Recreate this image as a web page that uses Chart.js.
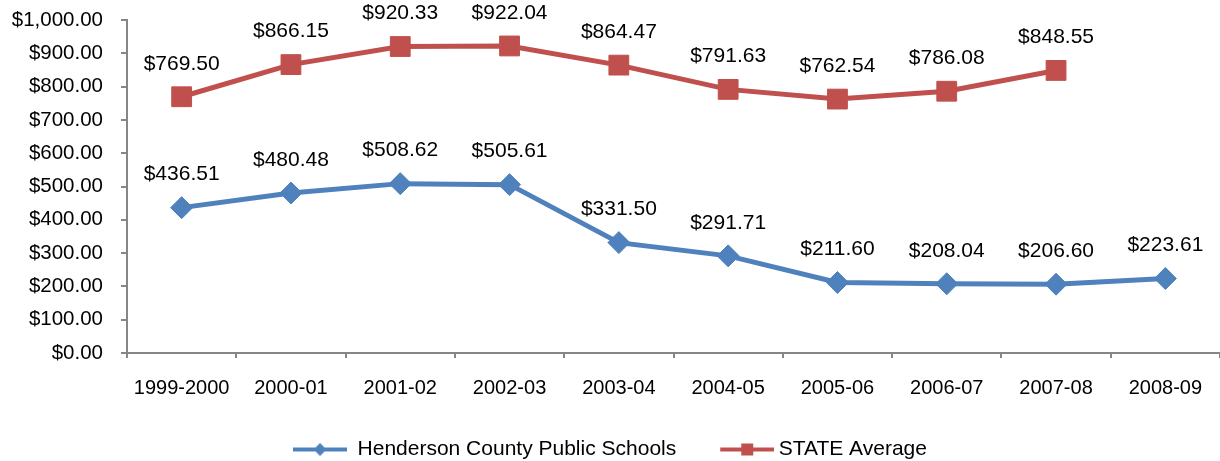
<!DOCTYPE html>
<html>
<head>
<meta charset="utf-8">
<script src="https://cdn.jsdelivr.net/npm/chart.js@4.4.0/dist/chart.umd.min.js"></script>
<style>
  html, body { margin: 0; padding: 0; background: #fff; }
  #wrap { width: 1220px; height: 461px; }
</style>
</head>
<body>
<div id="wrap"><canvas id="myChart" width="1220" height="461"></canvas></div>
<script>
var years = ["1999-2000", "2000-01", "2001-02", "2002-03", "2003-04", "2004-05", "2005-06", "2006-07", "2007-08", "2008-09"]
var henderson = [436.51, 480.48, 508.62, 505.61, 331.50, 291.71, 211.60, 208.04, 206.60, 223.61]
var stateAvg = [769.50, 866.15, 920.33, 922.04, 864.47, 791.63, 762.54, 786.08, 848.55, null]
var seriesNames = ["Henderson County Public Schools", "STATE Average"]

var blue = "#4F81BD"
var red = "#C0504D"
var axisGray = "#868686"
var font = "'Liberation Sans', Arial, sans-serif"

function money(v) {
  return "$" + v.toLocaleString("en-US", {minimumFractionDigits: 2, maximumFractionDigits: 2})
}

// legend swatch: line with a small marker, shift pushes it right (canvas gets wider on the left)
function swatch(color, shape, shift) {
  var c = document.createElement("canvas")
  c.width = 54 + 2 * shift; c.height = 16
  var g = c.getContext("2d")
  var x0 = 2 * shift
  g.strokeStyle = color
  g.lineWidth = 4
  g.beginPath(); g.moveTo(x0, 8); g.lineTo(x0 + 54, 8); g.stroke()
  g.fillStyle = color
  var cx = x0 + 27
  if (shape == "diamond") {
    g.beginPath(); g.moveTo(cx, 1.5); g.lineTo(cx + 6.5, 8); g.lineTo(cx, 14.5); g.lineTo(cx - 6.5, 8); g.closePath(); g.fill()
  } else {
    g.fillRect(cx - 6, 2, 12, 12)
  }
  return c
}

var valueLabels = {
  id: "valueLabels",
  afterDatasetsDraw: function(chart) {
    var ctx = chart.ctx
    ctx.save()
    ctx.font = "21px " + font
    ctx.fillStyle = "#000"
    ctx.textAlign = "center"
    ctx.textBaseline = "middle"
    chart.data.datasets.forEach(function(ds, i) {
      chart.getDatasetMeta(i).data.forEach(function(pt, j) {
        var v = ds.data[j]
        if (v == null) return
        ctx.fillText(money(v), pt.x, pt.y - 33)
      })
    })
    ctx.restore()
  }
}

var ctx = document.getElementById("myChart")
var chart = new Chart(ctx, {
  type: "line",
  data: {
    labels: years,
    datasets: [
      {
        label: seriesNames[0],
        data: henderson,
        borderColor: blue,
        backgroundColor: blue,
        borderWidth: 5,
        pointStyle: "rectRot",
        pointRadius: 11,
        pointBorderWidth: 1,
        tension: 0,
        clip: false
      },
      {
        label: seriesNames[1],
        data: stateAvg,
        borderColor: red,
        backgroundColor: red,
        borderWidth: 5,
        pointStyle: "rect",
        pointRadius: 14,
        pointBorderWidth: 1,
        tension: 0,
        clip: false
      }
    ]
  },
  options: {
    responsive: false,
    animation: false,
    // negative bottom pad lets the legend sit lower, like the original
    layout: { autoPadding: false, padding: { top: 20, right: 0, left: 0, bottom: -9 } },
    plugins: {
      tooltip: { enabled: false },
      legend: {
        position: "bottom",
        labels: {
          usePointStyle: true,
          pointStyleWidth: 54,
          padding: 38,
          color: "#000",
          font: { size: 21, family: font },
          generateLabels: function(chart) {
            return [
              { text: seriesNames[0], pointStyle: swatch(blue, "diamond", 0), fillStyle: blue, strokeStyle: blue, lineWidth: 0, datasetIndex: 0 },
              { text: seriesNames[1], pointStyle: swatch(red, "square", 6), fillStyle: red, strokeStyle: red, lineWidth: 0, datasetIndex: 1 }
            ]
          }
        }
      }
    },
    scales: {
      x: {
        offset: true,
        grid: { offset: true, drawOnChartArea: false, drawTicks: true, tickLength: 5, color: axisGray, lineWidth: 2 },
        border: { color: axisGray, width: 2 },
        ticks: { color: "#000", font: { size: 20, family: font }, padding: 18, maxRotation: 0 },
        afterFit: function(s) { s.height = 48; s.paddingLeft = 0; s.paddingRight = 0 }
      },
      y: {
        min: 0,
        max: 1000,
        grid: { drawOnChartArea: false, drawTicks: true, tickLength: 6, color: axisGray, lineWidth: 2 },
        border: { color: axisGray, width: 2 },
        ticks: {
          stepSize: 100,
          color: "#000",
          font: { size: 20.5, family: font },
          padding: 18,
          callback: function(v) { return money(v) }
        },
        afterFit: function(s) { s.width = 127; s.paddingTop = 0; s.paddingBottom = 0 }
      }
    }
  },
  plugins: [valueLabels]
})
</script>
</body>
</html>
